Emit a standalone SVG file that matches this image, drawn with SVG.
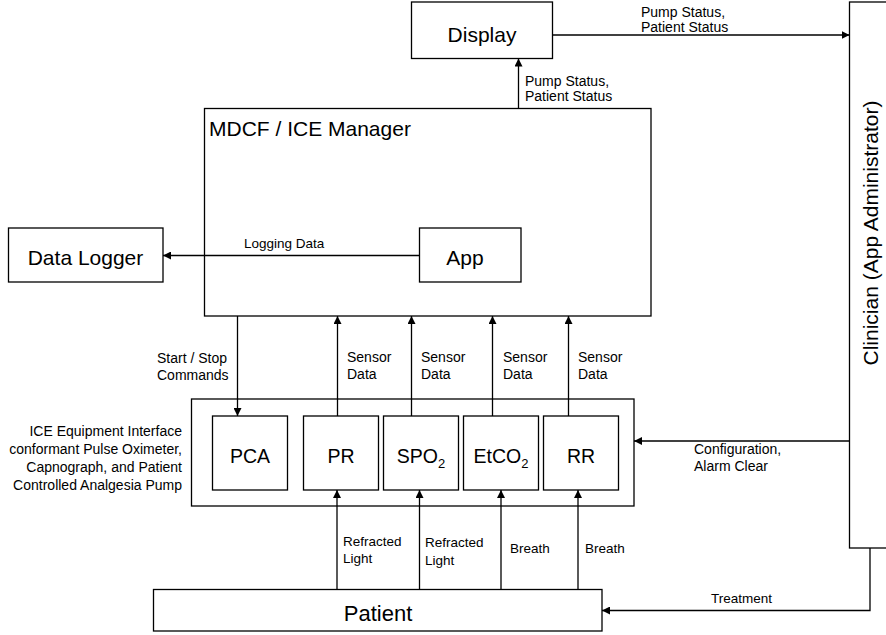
<svg xmlns="http://www.w3.org/2000/svg" width="886" height="635" viewBox="0 0 886 635">
<style>
.box{fill:#fff;stroke:#000;stroke-width:1.3}
.ln{fill:none;stroke:#000;stroke-width:1.3}
text{font-family:"Liberation Sans",Arial,sans-serif;fill:#000}
.big{font-size:21px}
.mid{font-size:19.5px;text-anchor:middle}
.sm{font-size:14px}
.xs{font-size:13.5px}
</style>
<defs>
<marker id="ah" viewBox="0 0 10 10" refX="10" refY="5" markerWidth="8" markerHeight="8" markerUnits="userSpaceOnUse" orient="auto">
<path d="M0,0 L10,5 L0,10 z" fill="#000"/>
</marker>
</defs>
<g id="display"><rect class="box" x="411.5" y="2" width="141" height="56.5"/><text class="big" x="482" y="42" text-anchor="middle">Display</text></g>
<g id="clinician"><rect class="box" x="849.5" y="2" width="42" height="546"/><text class="big" transform="translate(878,233) rotate(-90)" text-anchor="middle">Clinician (App Administrator)</text></g>
<g id="mdcf"><rect class="box" x="204.5" y="108.5" width="446.5" height="207.5"/><text class="big" x="209" y="136">MDCF / ICE Manager</text></g>
<g id="app"><rect class="box" x="419.5" y="228" width="101.5" height="54"/><text class="big" x="465" y="265" text-anchor="middle">App</text></g>
<g id="datalogger"><rect class="box" x="8.5" y="228" width="154.5" height="54"/><text class="big" x="85.5" y="265" text-anchor="middle">Data Logger</text></g>
<g id="equipment"><rect class="box" x="191.5" y="399" width="442.5" height="107"/>
<text class="sm" text-anchor="end"><tspan x="182" y="436">ICE Equipment Interface</tspan><tspan x="182" y="454">conformant Pulse Oximeter,</tspan><tspan x="182" y="472">Capnograph, and Patient</tspan><tspan x="182" y="490">Controlled Analgesia Pump</tspan></text></g>
<g id="pca"><rect class="box" x="212.5" y="416" width="75" height="74"/><text class="mid" x="250" y="463">PCA</text></g>
<g id="pr"><rect class="box" x="303.5" y="416" width="75" height="74"/><text class="mid" x="341" y="463">PR</text></g>
<g id="spo2"><rect class="box" x="383.5" y="416" width="75" height="74"/><text class="mid" x="421" y="463">SPO<tspan font-size="13" dy="5">2</tspan></text></g>
<g id="etco2"><rect class="box" x="463.5" y="416" width="75" height="74"/><text class="mid" x="501" y="463">EtCO<tspan font-size="13" dy="5">2</tspan></text></g>
<g id="rr"><rect class="box" x="543.5" y="416" width="75" height="74"/><text class="mid" x="581" y="463">RR</text></g>
<g id="patient"><rect class="box" x="153.5" y="589.5" width="448.5" height="41.5"/><text class="big" x="378" y="621" text-anchor="middle" style="font-size:22px">Patient</text></g>
<g id="connectors">
<line class="ln" x1="552.5" y1="35" x2="849.5" y2="35" marker-end="url(#ah)"/>
<text class="sm"><tspan x="641" y="17">Pump Status,</tspan><tspan x="641" y="32">Patient Status</tspan></text>
<line class="ln" x1="518.5" y1="108.5" x2="518.5" y2="58.5" marker-end="url(#ah)"/>
<text class="sm"><tspan x="525" y="86">Pump Status,</tspan><tspan x="525" y="101">Patient Status</tspan></text>
<line class="ln" x1="419.5" y1="255.5" x2="163" y2="255.5" marker-end="url(#ah)"/>
<text class="xs" x="244" y="248">Logging Data</text>
<line class="ln" x1="237.5" y1="316" x2="237.5" y2="416" marker-end="url(#ah)"/>
<text class="sm"><tspan x="157" y="363">Start / Stop</tspan><tspan x="157" y="380">Commands</tspan></text>
<line class="ln" x1="337.5" y1="416" x2="337.5" y2="316" marker-end="url(#ah)"/>
<text class="sm"><tspan x="347" y="362">Sensor</tspan><tspan x="347" y="379">Data</tspan></text>
<line class="ln" x1="411.5" y1="416" x2="411.5" y2="316" marker-end="url(#ah)"/>
<text class="sm"><tspan x="421" y="362">Sensor</tspan><tspan x="421" y="379">Data</tspan></text>
<line class="ln" x1="492.5" y1="416" x2="492.5" y2="316" marker-end="url(#ah)"/>
<text class="sm"><tspan x="503" y="362">Sensor</tspan><tspan x="503" y="379">Data</tspan></text>
<line class="ln" x1="568.5" y1="416" x2="568.5" y2="316" marker-end="url(#ah)"/>
<text class="sm"><tspan x="578" y="362">Sensor</tspan><tspan x="578" y="379">Data</tspan></text>
<line class="ln" x1="849.5" y1="441" x2="634" y2="441" marker-end="url(#ah)"/>
<text class="sm"><tspan x="694" y="454">Configuration,</tspan><tspan x="694" y="471">Alarm Clear</tspan></text>
<line class="ln" x1="337" y1="589.5" x2="337" y2="490" marker-end="url(#ah)"/>
<text class="xs"><tspan x="343" y="546">Refracted</tspan><tspan x="343" y="563">Light</tspan></text>
<line class="ln" x1="419.5" y1="589.5" x2="419.5" y2="490" marker-end="url(#ah)"/>
<text class="xs"><tspan x="425" y="547">Refracted</tspan><tspan x="425" y="565">Light</tspan></text>
<line class="ln" x1="501" y1="589.5" x2="501" y2="490" marker-end="url(#ah)"/>
<text class="xs" x="510" y="553">Breath</text>
<line class="ln" x1="578" y1="589.5" x2="578" y2="490" marker-end="url(#ah)"/>
<text class="xs" x="585" y="553">Breath</text>
<polyline class="ln" points="870,548 870,610.5 602,610.5" marker-end="url(#ah)"/>
<text class="xs" x="711" y="603">Treatment</text>
</g>
</svg>
